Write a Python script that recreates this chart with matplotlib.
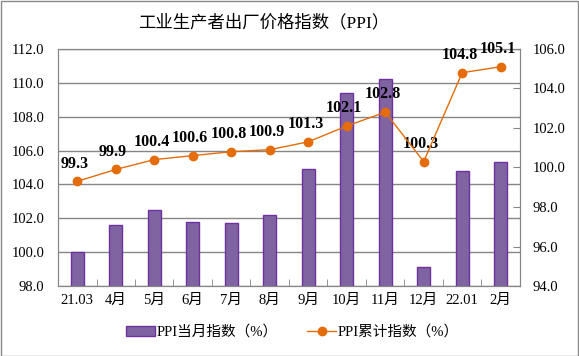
import matplotlib.pyplot as plt
import numpy as np

plt.rcParams['font.family'] = ['Liberation Serif', 'Noto Sans CJK SC']

months = ["21.03", "4月", "5月", "6月", "7月", "8月", "9月", "10月", "11月", "12月", "22.01", "2月"]
monthly = [100.0, 101.6, 102.5, 101.8, 101.7, 102.2, 104.9, 109.4, 110.2, 99.1, 104.8, 105.3]
cumulative = [99.3, 99.9, 100.4, 100.6, 100.8, 100.9, 101.3, 102.1, 102.8, 100.3, 104.8, 105.1]

bar_color = "#8064A2"
bar_edge = "#7030A0"
line_color = "#E46C0A"
grid_color = "#868686"

fig = plt.figure(figsize=(5.79, 3.56), dpi=100)
fig.patches.append(plt.Rectangle((0.001, 0.001), 0.997, 0.996, transform=fig.transFigure,
                                 fill=False, edgecolor="#888888", linewidth=1))
ax = fig.add_axes([0.1002, 0.1966, 0.7978, 0.6658])
x = np.arange(len(months))

ax.bar(x, monthly, width=0.34, bottom=0, color=bar_color, edgecolor=bar_edge,
       linewidth=1, label="PPI当月指数（%）", zorder=3)
ax.set_ylim(98, 112)
ax.set_yticks(np.arange(98, 112.1, 2))
ax.set_yticklabels([f"{v:.1f}" for v in np.arange(98, 112.1, 2)], fontsize=10.5)
ax.yaxis.grid(True, color=grid_color, linewidth=1)
ax.set_axisbelow(True)
ax.tick_params(axis='y', length=0, pad=10)
ax.set_xlim(-0.5, len(months) - 0.5)
ax.set_xticks(x)
ax.set_xticklabels(months, fontsize=10.5)
ax.tick_params(axis='x', length=0, pad=6)
ax.set_xticks(np.arange(0.5, len(months) - 0.5, 1), minor=True)
ax.tick_params(axis='x', which='minor', direction='in', length=5, color=grid_color)
for s in ax.spines.values():
    s.set_color(grid_color)

ax2 = ax.twinx()
ax2.plot(x, cumulative, color=line_color, linewidth=1, marker='o', markersize=6,
         label="PPI累计指数（%）", zorder=4)
ax2.set_ylim(94, 106)
ax2.set_yticks(np.arange(94, 106.1, 2))
ax2.set_yticklabels([f"{v:.1f}" for v in np.arange(94, 106.1, 2)], fontsize=10.5)
ax2.tick_params(axis='y', direction='in', length=5, color=grid_color, pad=9)
for s in ax2.spines.values():
    s.set_color(grid_color)

for xi, v in zip(x, cumulative):
    ax2.annotate(f"{v:.1f}", (xi, v), xytext=(-2, 7), textcoords='offset points',
                 ha='center', va='bottom', fontsize=11.5, fontweight='bold')

fig.suptitle("工业生产者出厂价格指数（PPI）", x=0.455, y=0.958, fontsize=12.5)

h1, l1 = ax.get_legend_handles_labels()
h2, l2 = ax2.get_legend_handles_labels()
fig.legend(h1 + h2, l1 + l2, loc='center', bbox_to_anchor=(0.505, 0.068), ncol=2,
           frameon=False, fontsize=10.5, handlelength=2.0, columnspacing=2.0, handletextpad=0.1)

fig.savefig("out.png", dpi=100)
